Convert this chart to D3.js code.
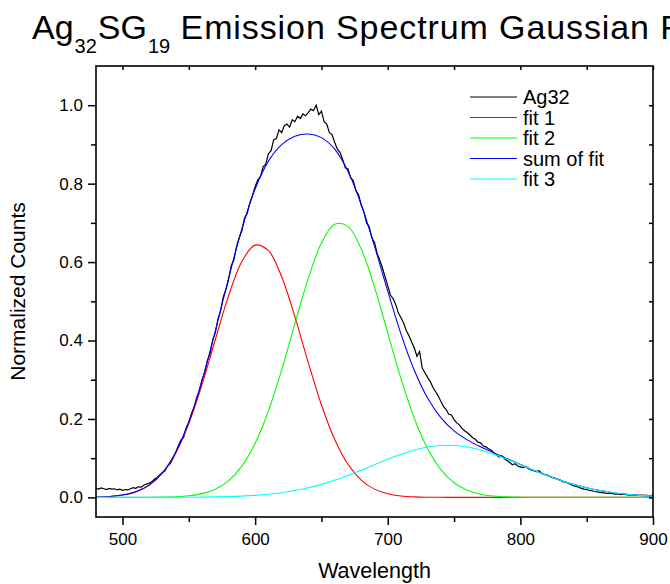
<!DOCTYPE html>
<html>
<head>
<meta charset="utf-8">
<script src="https://cdn.jsdelivr.net/npm/d3@7"></script>
<style>
    body { margin: 0; background: #fff; }
    svg { display: block; }
    text { font-family: Arial, "Liberation Sans", sans-serif; fill: #000; }
</style>
</head>
<body>
<div id="chart"></div>
<script>
// Measured spectrum, 2 nm steps from 480 to 900 nm
const wavelengths = d3.range(480, 901, 2);
const ag32 = [
    0.023, 0.021, 0.024, 0.022, 0.020, 0.023, 0.021, 0.022, 0.019, 0.021,
    0.018, 0.020, 0.019, 0.022, 0.025, 0.023, 0.027, 0.026, 0.031, 0.034,
    0.036, 0.040, 0.046, 0.050, 0.057, 0.063, 0.068, 0.080, 0.086, 0.099,
    0.113, 0.131, 0.146, 0.152, 0.177, 0.191, 0.214, 0.229, 0.255, 0.272,
    0.301, 0.318, 0.349, 0.366, 0.401, 0.420, 0.455, 0.476, 0.512, 0.530,
    0.556, 0.591, 0.606, 0.640, 0.662, 0.680, 0.712, 0.724, 0.751, 0.770,
    0.792, 0.810, 0.818, 0.843, 0.850, 0.876, 0.884, 0.912, 0.915, 0.937,
    0.930, 0.948, 0.952, 0.944, 0.963, 0.958, 0.972, 0.966, 0.978, 0.973,
    0.981, 0.990, 0.986, 1.000, 0.976, 0.985, 0.958, 0.952, 0.930, 0.925,
    0.905, 0.888, 0.880, 0.862, 0.840, 0.838, 0.815, 0.808, 0.782, 0.772,
    0.745, 0.728, 0.700, 0.690, 0.662, 0.650, 0.622, 0.605, 0.585, 0.562,
    0.540, 0.516, 0.507, 0.492, 0.470, 0.458, 0.444, 0.425, 0.412, 0.396,
    0.381, 0.360, 0.372, 0.330, 0.318, 0.306, 0.296, 0.281, 0.270, 0.259,
    0.245, 0.232, 0.224, 0.212, 0.210, 0.198, 0.190, 0.185, 0.176, 0.170,
    0.165, 0.159, 0.152, 0.148, 0.141, 0.139, 0.131, 0.129, 0.124, 0.120,
    0.114, 0.108, 0.103, 0.106, 0.098, 0.094, 0.089, 0.083, 0.086, 0.080,
    0.078, 0.076, 0.079, 0.073, 0.070, 0.068, 0.066, 0.068, 0.062, 0.059,
    0.057, 0.054, 0.051, 0.049, 0.047, 0.044, 0.040, 0.039, 0.036, 0.033,
    0.030, 0.028, 0.026, 0.023, 0.021, 0.020, 0.018, 0.017, 0.015, 0.014,
    0.013, 0.012, 0.011, 0.010, 0.011, 0.009, 0.008, 0.008, 0.007, 0.008,
    0.007, 0.006, 0.007, 0.006, 0.006, 0.005, 0.006, 0.005, 0.005, 0.004,
    0.006
];

// Gaussian fit curves, 10 nm steps from 480 to 900 nm
const fitWavelengths = d3.range(480, 901, 10);
const fit1 = [
    0.0008, 0.0023, 0.0059, 0.0141, 0.0309, 0.0617, 0.1128, 0.1885, 0.2881, 0.4026,
    0.5145, 0.6015, 0.6432, 0.6290, 0.5626, 0.4602, 0.3443, 0.2356, 0.1475, 0.0844,
    0.0442, 0.0211, 0.0093, 0.0037, 0.0014, 0.0005, 0.0002, 0, 0, 0,
    0, 0, 0, 0, 0, 0, 0, 0, 0, 0,
    0, 0, 0
];
const fit2 = [
    0, 0, 0, 0.0001, 0.0002, 0.0006, 0.0016, 0.0040, 0.0096, 0.0210,
    0.0426, 0.0798, 0.1380, 0.2204, 0.3251, 0.4431, 0.5578, 0.6486, 0.6966, 0.6910,
    0.6333, 0.5361, 0.4191, 0.3027, 0.2019, 0.1244, 0.0709, 0.0372, 0.0181, 0.0081,
    0.0034, 0.0013, 0.0005, 0.0001, 0, 0, 0, 0, 0, 0,
    0, 0, 0
];
const fitSum = [
    0.0008, 0.0023, 0.0059, 0.0142, 0.0312, 0.0624, 0.1146, 0.1929, 0.2984, 0.4248,
    0.5591, 0.6846, 0.7864, 0.8575, 0.8997, 0.9207, 0.9265, 0.9174, 0.8879, 0.8314,
    0.7469, 0.6407, 0.5258, 0.4165, 0.3241, 0.2534, 0.2036, 0.1697, 0.1466, 0.1289,
    0.1135, 0.0987, 0.0840, 0.0695, 0.0560, 0.0438, 0.0332, 0.0244, 0.0174, 0.0120,
    0.0081, 0.0052, 0.0033
];
const fit3 = [
    0, 0, 0, 0, 0.0001, 0.0001, 0.0002, 0.0004, 0.0007, 0.0012,
    0.0020, 0.0033, 0.0052, 0.0081, 0.0120, 0.0174, 0.0244, 0.0332, 0.0438, 0.0560,
    0.0694, 0.0835, 0.0974, 0.1101, 0.1208, 0.1285, 0.1325, 0.1325, 0.1285, 0.1208,
    0.1101, 0.0974, 0.0835, 0.0694, 0.0560, 0.0438, 0.0332, 0.0244, 0.0174, 0.0120,
    0.0081, 0.0052, 0.0033
];

const seriesNames = ["Ag32", "fit 1", "fit 2", "sum of fit", "fit 3"];
const seriesColors = ["#000000", "#ff0000", "#00ff00", "#0000ff", "#00ffff"];

const xMajorTicks = [500, 600, 700, 800, 900];
const xMinorTicks = [550, 650, 750, 850];
const yMajorTicks = [0, 0.2, 0.4, 0.6, 0.8, 1.0];
const yMinorTicks = [0.1, 0.3, 0.5, 0.7, 0.9];

const width = 670, height = 584;
const margin = { top: 66, right: 17, bottom: 67, left: 96 };

const svg = d3.select("#chart").append("svg")
    .attr("width", width)
    .attr("height", height);

const x = d3.scaleLinear()
    .domain([480, 900])
    .range([margin.left, width - margin.right]);

const y = d3.scaleLinear()
    .domain([-0.05, 1.1])
    .range([height - margin.bottom, margin.top]);

svg.append("clipPath")
    .attr("id", "plot-clip")
    .append("rect")
    .attr("x", margin.left)
    .attr("y", margin.top)
    .attr("width", width - margin.left - margin.right)
    .attr("height", height - margin.top - margin.bottom);

// Title with subscripts (runs past the right edge, as in the original)
const title = svg.append("text")
    .attr("x", 32)
    .attr("y", 39)
    .style("font-size", "34px");
title.append("tspan").text("Ag");
title.append("tspan").attr("dy", 14).attr("dx", 1).style("font-size", "20px").text("32");
title.append("tspan").attr("dy", -14).attr("dx", 1).text("SG");
title.append("tspan").attr("dy", 14).attr("dx", 1).style("font-size", "20px").text("19");
title.append("tspan").attr("dy", -14).style("letter-spacing", "0.9px")
    .text(" Emission Spectrum Gaussian Fit");

// Lines
const plot = svg.append("g").attr("clip-path", "url(#plot-clip)");

const line = d3.line()
    .x(d => x(d[0]))
    .y(d => y(d[1]));

const smoothLine = d3.line()
    .curve(d3.curveCatmullRom.alpha(0.5))
    .x(d => x(d[0]))
    .y(d => y(d[1]));

plot.append("path")
    .datum(d3.zip(wavelengths, ag32))
    .attr("fill", "none")
    .attr("stroke", seriesColors[0])
    .attr("stroke-width", 1.2)
    .attr("d", line);

[fit1, fit2, fitSum, fit3].forEach((values, i) => {
    plot.append("path")
        .datum(d3.zip(fitWavelengths, values))
        .attr("fill", "none")
        .attr("stroke", seriesColors[i + 1])
        .attr("stroke-width", 1.1)
        .attr("d", smoothLine);
});

// Axes
const bottom = height - margin.bottom;
const right = width - margin.right;

svg.append("g")
    .attr("transform", `translate(0,${bottom})`)
    .call(d3.axisBottom(x).tickValues(xMajorTicks).tickSize(8).tickPadding(8).tickFormat(d3.format("d")))
    .call(g => g.select(".domain").remove());
svg.append("g")
    .attr("transform", `translate(0,${bottom})`)
    .call(d3.axisBottom(x).tickValues(xMinorTicks).tickSize(5).tickFormat(""))
    .call(g => g.select(".domain").remove());

svg.append("g")
    .attr("transform", `translate(${margin.left},0)`)
    .call(d3.axisLeft(y).tickValues(yMajorTicks).tickSize(8).tickPadding(5).tickFormat(d3.format(".1f")))
    .call(g => g.select(".domain").remove());
svg.append("g")
    .attr("transform", `translate(${margin.left},0)`)
    .call(d3.axisLeft(y).tickValues(yMinorTicks).tickSize(5).tickFormat(""))
    .call(g => g.select(".domain").remove());

// top and right mirror ticks, pointing inward
svg.append("g")
    .attr("transform", `translate(0,${margin.top})`)
    .call(d3.axisBottom(x).tickValues(xMajorTicks.concat(xMinorTicks)).tickSize(4).tickFormat(""))
    .call(g => g.select(".domain").remove());
svg.append("g")
    .attr("transform", `translate(${right},0)`)
    .call(d3.axisLeft(y).tickValues(yMajorTicks.concat(yMinorTicks)).tickSize(4).tickFormat(""))
    .call(g => g.select(".domain").remove());

svg.selectAll(".tick line").attr("stroke", "#000").attr("stroke-width", 1.5);
svg.selectAll(".tick text")
    .style("font-size", "17px")
    .style("font-family", "Arial, 'Liberation Sans', sans-serif")
    .attr("fill", "#000");

svg.append("rect")
    .attr("x", margin.left)
    .attr("y", margin.top)
    .attr("width", right - margin.left)
    .attr("height", bottom - margin.top)
    .attr("fill", "none")
    .attr("stroke", "#000")
    .attr("stroke-width", 1.6);

// Axis titles
svg.append("text")
    .attr("x", (margin.left + right) / 2)
    .attr("y", 578)
    .attr("text-anchor", "middle")
    .style("font-size", "21.5px")
    .text("Wavelength");

svg.append("text")
    .attr("transform", `translate(25,${(margin.top + bottom) / 2}) rotate(-90)`)
    .attr("text-anchor", "middle")
    .style("font-size", "21px")
    .text("Normalized Counts");

// Legend
const legend = svg.append("g").attr("transform", "translate(470,97)");
seriesNames.forEach((name, i) => {
    const row = legend.append("g").attr("transform", `translate(0,${i * 20.5})`);
    row.append("line")
        .attr("x1", 0).attr("x2", 47)
        .attr("stroke", seriesColors[i])
        .attr("stroke-width", 1.1);
    row.append("text")
        .attr("x", 53)
        .attr("dy", "0.35em")
        .style("font-size", "20px")
        .text(name);
});
</script>
</body>
</html>
